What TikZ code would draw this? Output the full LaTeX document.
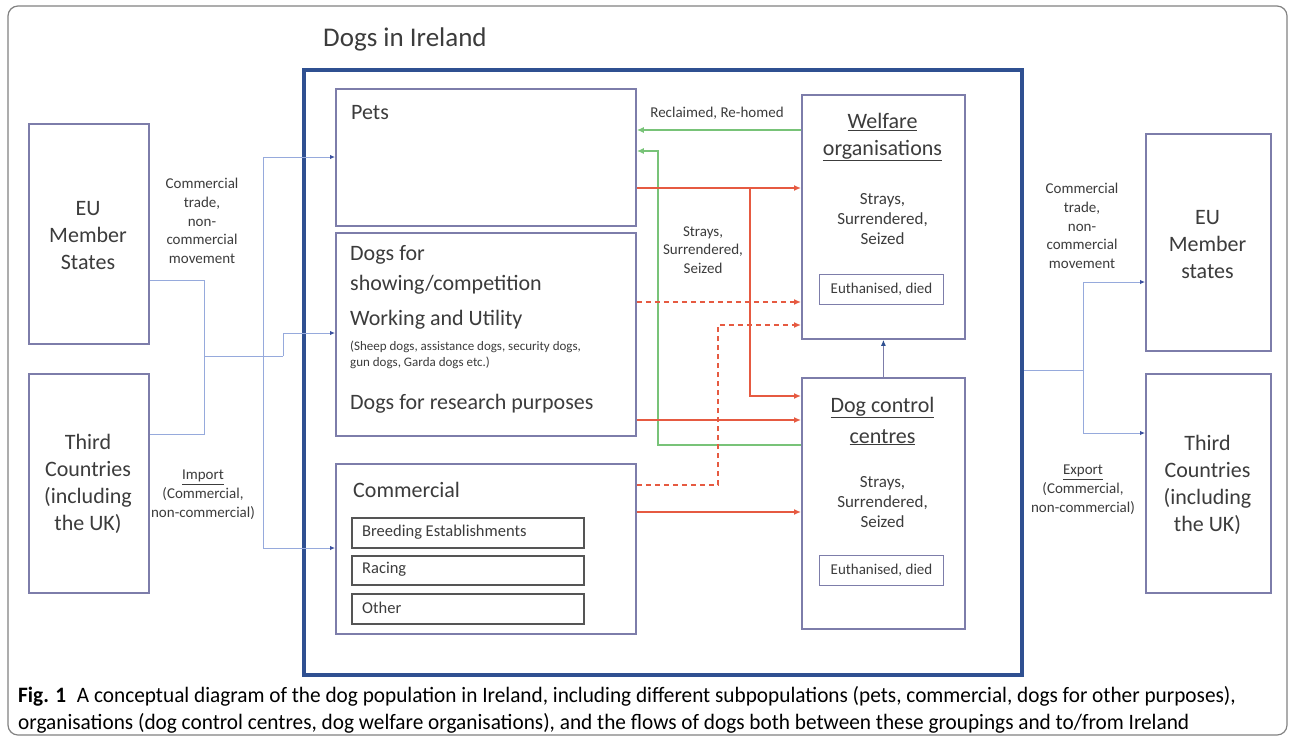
\documentclass[tikz,border=0pt]{standalone}
\usepackage{fontspec}
\setmainfont{Carlito}
\newfontfamily\capfont[FakeStretch=0.967]{Carlito}
\usetikzlibrary{arrows.meta}
\definecolor{frameblue}{RGB}{47,80,145}
\definecolor{boxc}{RGB}{125,125,170}
\definecolor{conn}{RGB}{150,170,220}
\definecolor{tipblue}{RGB}{60,80,160}
\definecolor{redc}{RGB}{230,90,65}
\definecolor{greenc}{RGB}{120,195,120}
\definecolor{txt}{RGB}{60,60,60}
\definecolor{subc}{RGB}{85,85,85}
\definecolor{outer}{RGB}{130,130,130}
\begin{document}
\begin{tikzpicture}[x=1pt,y=-1pt,
  box/.style={draw=boxc, line width=1.8pt, inner sep=0pt, anchor=north west},
  subbox/.style={draw=subc, line width=1.8pt, inner sep=0pt, anchor=north west},
  thinbox/.style={draw=boxc, line width=1pt, inner sep=0pt, anchor=north west},
  bigt/.style={text=txt, inner sep=0pt, font=\fontsize{22}{27}\selectfont},
  midt/.style={text=txt, inner sep=0pt, font=\fontsize{17}{20}\selectfont, align=center},
  smallt/.style={text=txt, inner sep=0pt, font=\fontsize{15}{18.8}\selectfont, align=center},
  conline/.style={draw=conn, line width=1pt},
  contip/.style={-{Latex[length=5pt,width=4.5pt,color=tipblue]}},
  redline/.style={draw=redc, line width=1.5pt, -{Latex[length=7pt,width=6pt]}},
  greenline/.style={draw=greenc, line width=1.5pt, -{Latex[length=7pt,width=6pt]}},
  reddash/.style={redline, dash pattern=on 5pt off 4pt},
  captext/.style={anchor=base west, inner sep=0pt, font=\capfont\fontsize{22}{26}\selectfont}
]
\useasboundingbox (0,0) rectangle (1295,740);
\fill[white] (0,0) rectangle (1295,740);
\draw[draw=outer, line width=1.2pt, rounded corners=10pt] (8,6) rectangle (1287,735);

% main frame
\node[draw=frameblue, line width=4pt, inner sep=0pt, anchor=north west, minimum width=718, minimum height=605] (ire) at (302,68) {};
\node[anchor=base west, text=txt, inner sep=0pt, font=\fontsize{27}{32}\selectfont] (title) at (323,46) {Dogs in Ireland};

% Ireland internal boxes
\node[box, minimum width=300, minimum height=137] (pets) at (335,88) {};
\node[box, minimum width=300, minimum height=203] (show) at (335,232) {};
\node[box, minimum width=300, minimum height=170] (comm) at (335,463) {};
\node[subbox, minimum width=232, minimum height=30] (breed) at (351,517) {};
\node[subbox, minimum width=232, minimum height=29] (racing) at (351,555) {};
\node[subbox, minimum width=232, minimum height=30] (other) at (351,593) {};

\node[bigt, anchor=base west] (petsT) at (351,119) {Pets};
\node[bigt, anchor=base west] (showT1) at (350,260) {Dogs for};
\node[bigt, anchor=base west] (showT2) at (350,290) {showing/competition};
\node[bigt, anchor=base west] (workT) at (350,325) {Working and Utility};
\node[text=txt, inner sep=0pt, font=\fontsize{13}{16}\selectfont, anchor=base west] (workS1) at (350,350) {(Sheep dogs, assistance dogs, security dogs,};
\node[text=txt, inner sep=0pt, font=\fontsize{13}{16}\selectfont, anchor=base west] (workS2) at (350,366) {gun dogs, Garda dogs etc.)};
\node[bigt, anchor=base west] (resT) at (350,409) {Dogs for research purposes};
\node[bigt, anchor=base west] (commT) at (353,497) {Commercial};
\node[text=txt, inner sep=0pt, font=\fontsize{16.5}{20}\selectfont, anchor=west] (breedT) at (362,532) {Breeding Establishments};
\node[text=txt, inner sep=0pt, font=\fontsize{16.5}{20}\selectfont, anchor=west] (racingT) at (362,569.5) {Racing};
\node[text=txt, inner sep=0pt, font=\fontsize{16.5}{20}\selectfont, anchor=west] (otherT) at (362,608) {Other};

% organisations
\node[box, minimum width=163, minimum height=244] (welf) at (801,94) {};
\node[thinbox, minimum width=124, minimum height=30] (euth1) at (819,274) {};
\node[box, minimum width=163, minimum height=251] (dc) at (801,377) {};
\node[thinbox, minimum width=124, minimum height=30] (euth2) at (819,555) {};

\node[bigt, align=center, font=\fontsize{22}{27}\selectfont] (welfT) at (882.5,137) {\underline{Welfare}\\\underline{organisations}};
\node[midt] (welfS) at (882.5,219) {Strays,\\Surrendered,\\Seized};
\node[text=txt, inner sep=0pt, font=\fontsize{15}{18}\selectfont] (euth1T) at (euth1.center) {Euthanised, died};
\node[bigt, align=center, font=\fontsize{22}{31}\selectfont] (dcT) at (882.5,421) {\underline{Dog control}\\\underline{centres}};
\node[midt] (dcS) at (882.5,502) {Strays,\\Surrendered,\\Seized};
\node[text=txt, inner sep=0pt, font=\fontsize{15}{18}\selectfont] (euth2T) at (euth2.center) {Euthanised, died};

% outside boxes
\node[box, minimum width=120, minimum height=220] (euL) at (28,123) {};
\node[box, minimum width=120, minimum height=219] (thL) at (28,373) {};
\node[box, minimum width=125, minimum height=217] (euR) at (1145,133) {};
\node[box, minimum width=125, minimum height=219] (thR) at (1145,373) {};

\node[bigt, align=center] (euLT) at (88,236) {EU\\Member\\States};
\node[bigt, align=center] (thLT) at (88,484) {Third\\Countries\\(including\\the UK)};
\node[bigt, align=center] (euRT) at (1207.5,245) {EU\\Member\\states};
\node[bigt, align=center] (thRT) at (1207.5,485) {Third\\Countries\\(including\\the UK)};

% labels
\node[smallt] (lblL) at (202,221) {Commercial\\trade,\\non-\\commercial\\movement};
\node[smallt] (impL) at (203,495) {\underline{Import}\\(Commercial,\\non-commercial)};
\node[smallt] (lblR) at (1082,226) {Commercial\\trade,\\non-\\commercial\\movement};
\node[smallt] (expR) at (1083,490) {\underline{Export}\\(Commercial,\\non-commercial)};
\node[smallt] (recl) at (717,113) {Reclaimed, Re-homed};
\node[smallt] (ssS) at (703,250) {Strays,\\Surrendered,\\Seized};

% left connectors
\coordinate (jA) at (204,356);
\coordinate (jB) at (263,356);
\coordinate (jC) at (283,356);
\draw[conline] (euL.east |- 0,280) -- (204,280) -- (204,434) -- (thL.east |- 0,434);
\draw[conline] (jA) -- (jC);
\draw[conline, contip] (jC) -- (283,333) -- (show.west |- 0,333);
\draw[conline, contip] (jB) -- (263,157) -- (pets.west |- 0,157);
\draw[conline, contip] (jB) -- (263,548) -- (comm.west |- 0,548);

% right connectors
\coordinate (jR) at (1083,370);
\draw[conline] (ire.east |- 0,370) -- (jR);
\draw[conline, contip] (jR) -- (1083,282) -- (euR.west |- 0,282);
\draw[conline, contip] (jR) -- (1083,433) -- (thR.west |- 0,433);

% internal flows
\draw[greenline] (welf.west |- 0,130) -- (pets.east |- 0,130);
\draw[greenline] (dc.west |- 0,445) -- (658,445) -- (658,151) -- (pets.east |- 0,151);
\draw[redline] (pets.east |- 0,188) -- (welf.west |- 0,188);
\draw[redline] (750,188) -- (750,396) -- (dc.west |- 0,396);
\draw[reddash] (show.east |- 0,302) -- (welf.west |- 0,302);
\draw[reddash] (comm.east |- 0,485) -- (718,485) -- (718,325) -- (welf.west |- 0,325);
\draw[redline] (show.east |- 0,420) -- (dc.west |- 0,420);
\draw[redline] (comm.east |- 0,512) -- (dc.west |- 0,512);
\draw[draw=boxc, line width=1.2pt, -{Latex[length=6pt,width=5pt,color=frameblue]}] (dc.north) -- (welf.south);

% caption
\node[captext] (cap1) at (18,702) {\textbf{Fig. 1}\hspace{6pt} A conceptual diagram of the dog population in Ireland, including different subpopulations (pets, commercial, dogs for other purposes),};
\node[captext] (cap2) at (18,729) {organisations (dog control centres, dog welfare organisations), and the flows of dogs both between these groupings and to/from Ireland};
\end{tikzpicture}
\end{document}
